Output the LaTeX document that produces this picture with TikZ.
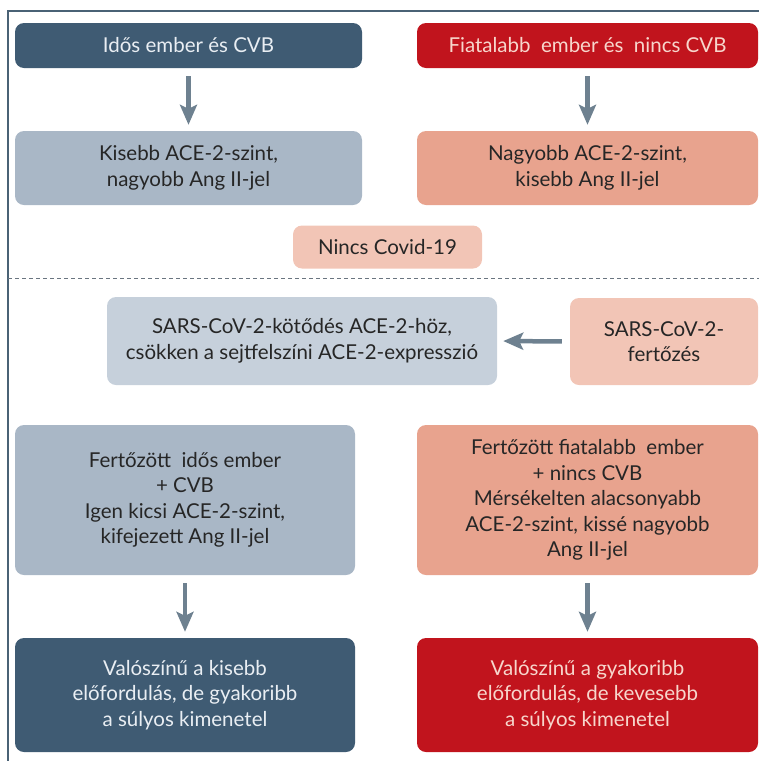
\documentclass[tikz,border=0pt]{standalone}
\usepackage{fontspec}
\setmainfont{Lato}
\usetikzlibrary{arrows.meta}
\definecolor{darkblue}{HTML}{3F5B73}
\definecolor{lightblue}{HTML}{A9B7C6}
\definecolor{paleblue}{HTML}{C6D0DB}
\definecolor{redbox}{HTML}{C1141D}
\definecolor{salmon}{HTML}{E8A38E}
\definecolor{palesalmon}{HTML}{F2C5B6}
\definecolor{arrowgray}{HTML}{6E8190}
\definecolor{framecol}{HTML}{4A6275}
\definecolor{dashcol}{HTML}{6A7580}
\definecolor{txtdark}{HTML}{262626}
\definecolor{txtlight}{HTML}{E9EEF3}
\definecolor{txtpink}{HTML}{F7D6CC}
\tikzset{
  box/.style={rounded corners=9pt, align=center, inner sep=0pt,
    font=\fontsize{20.5}{25.5}\selectfont, text=txtdark},
  darkbox/.style={box, fill=darkblue, text=txtlight},
  redfill/.style={box, fill=redbox, text=txtpink},
  lbbox/.style={box, fill=lightblue},
  pbbox/.style={box, fill=paleblue},
  sbox/.style={box, fill=salmon},
  psbox/.style={box, fill=palesalmon},
  flow/.style={draw=arrowgray, line width=4.5pt,
    -{Stealth[length=20pt,width=17pt,inset=4pt]}, shorten <=8pt, shorten >=6pt}
}
\begin{document}
\begin{tikzpicture}[x=1pt,y=-1pt]
\useasboundingbox (0,0) rectangle (759,761);
% frame
\draw[framecol, line width=1.5pt] (8,761) -- (8,11) -- (759,11);
% top row
\node[darkbox, minimum width=347pt, minimum height=45pt] (A) at (188.5,45.5) {Idős ember és CVB};
\node[redfill, minimum width=341pt, minimum height=45pt] (B) at (587.5,45.5) {Fiatalabb\ \ ember és\ \ nincs CVB};
\node[lbbox, minimum width=347pt, minimum height=74pt] (C) at (188.5,168) {Kisebb ACE-2-szint,\\nagyobb Ang II-jel};
\node[sbox, minimum width=341pt, minimum height=74pt] (D) at (587.5,168) {Nagyobb ACE-2-szint,\\kisebb Ang II-jel};
\node[psbox, minimum width=189pt, minimum height=43pt] (N) at (387.5,247) {Nincs Covid-19};
% dashed divider
\coordinate (dl) at (8,278);
\coordinate (dr) at (759,278);
\draw[dashcol, line width=1pt, dash pattern=on 4pt off 3pt] (dl) -- (dr);
% middle row
\node[pbbox, minimum width=390pt, minimum height=88pt] (K) at (302,341) {SARS-CoV-2-kötődés ACE-2-höz,\\csökken a sejtfelszíni ACE-2-expresszió};
\node[psbox, minimum width=188pt, minimum height=87pt] (F) at (664,341.5) {SARS-CoV-2-\\fertőzés};
% lower rows
\node[lbbox, minimum width=340pt, minimum height=150pt] (E1) at (185,500) {Fertőzött\ \ idős ember\\+ CVB\\Igen kicsi ACE-2-szint,\\kifejezett Ang II-jel};
\node[sbox, minimum width=341pt, minimum height=150pt] (E2) at (587.5,500) {Fertőzött fiatalabb\ \ ember\\+ nincs CVB\\Mérsékelten alacsonyabb\\ACE-2-szint, kissé nagyobb\\Ang II-jel};
\node[darkbox, minimum width=340pt, minimum height=114pt] (V1) at (185,695) {Valószínű a kisebb\\előfordulás, de gyakoribb\\a súlyos kimenetel};
\node[redfill, minimum width=341pt, minimum height=114pt] (V2) at (587.5,695) {Valószínű a gyakoribb\\előfordulás, de kevesebb\\a súlyos kimenetel};
% arrows
\draw[flow] (A.south) -- (C.north);
\draw[flow] (B.south) -- (D.north);
\draw[flow] (F.west) -- (K.east);
\draw[flow] (E1.south) -- (V1.north);
\draw[flow] (E2.south) -- (V2.north);
\end{tikzpicture}
\end{document}
